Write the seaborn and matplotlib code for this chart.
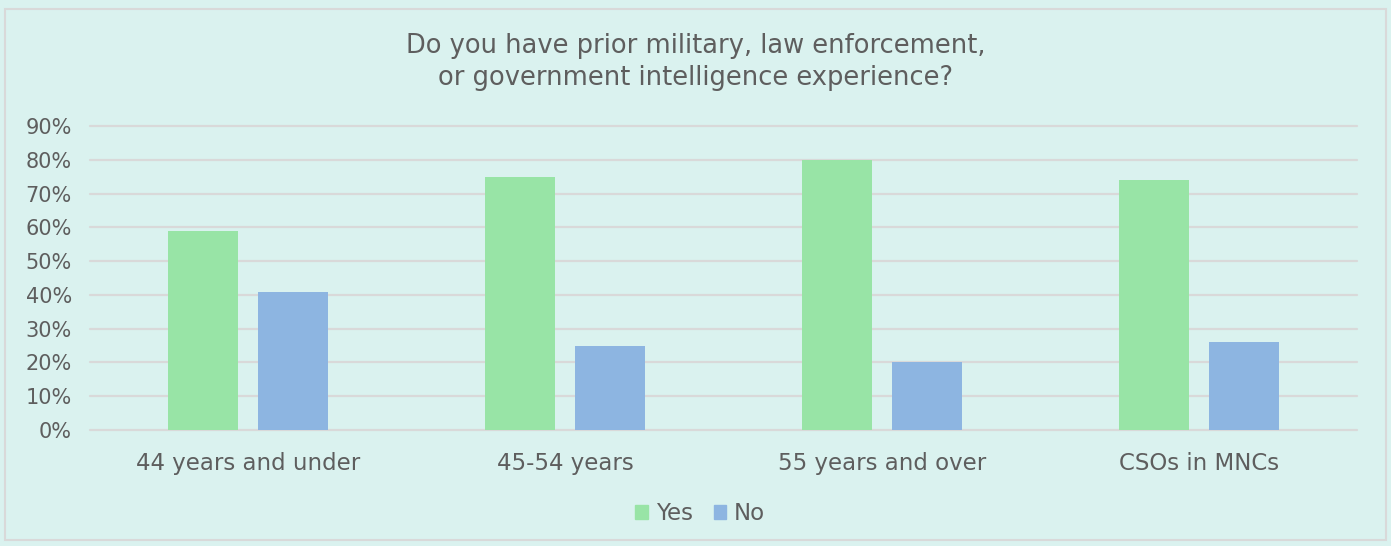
import matplotlib
matplotlib.use("Agg")
import matplotlib.pyplot as plt
import seaborn as sns
import pandas as pd
from matplotlib.patches import Rectangle
from matplotlib.ticker import PercentFormatter

categories = ["44 years and under", "45-54 years", "55 years and over", "CSOs in MNCs"]
yes_values = [59, 75, 80, 74]
no_values = [41, 25, 20, 26]
series_names = ["Yes", "No"]
y_ticks = [0, 10, 20, 30, 40, 50, 60, 70, 80, 90]
title = "Do you have prior military, law enforcement,\nor government intelligence experience?"

bg = "#DAF2EF"
text_color = "#5E5E5E"
grid_color = "#D9D9D9"
palette = {"Yes": "#98E4A6", "No": "#8DB5E1"}

df = pd.DataFrame({
    "category": categories * 2,
    "series": [series_names[0]] * len(categories) + [series_names[1]] * len(categories),
    "value": yes_values + no_values,
})

sns.set_style("white")
plt.rcParams["font.family"] = ["DejaVu Sans"]

fig = plt.figure(figsize=(13.91, 5.46), dpi=100, facecolor=bg)
ax = fig.add_axes([90 / 1391, 1 - 430 / 546, (1357 - 90) / 1391, (430 - 126) / 546])
ax.set_facecolor(bg)

sns.barplot(data=df, x="category", y="value", hue="series", palette=palette,
            width=0.568, gap=0.222, ax=ax, legend=False, saturation=1,
            edgecolor="none", linewidth=0)

ax.set_ylim(0, 90)
ax.set_xlim(-0.5, len(categories) - 0.5)
ax.set_yticks(y_ticks)
ax.yaxis.set_major_formatter(PercentFormatter(decimals=0))
ax.grid(axis="y", color=grid_color, linewidth=1.6)
for gl in ax.get_ygridlines():
    gl.set_clip_on(False)
ax.set_axisbelow(True)
for s in ax.spines.values():
    s.set_visible(False)
ax.tick_params(axis="y", length=0, labelsize=15, colors=text_color, pad=13)
ax.tick_params(axis="x", length=0, labelsize=16.5, colors=text_color, pad=16)
ax.set_xlabel("")
ax.set_ylabel("")

fig.text(0.5, 1 - 62 / 546, title, ha="center", va="center", fontsize=18.5,
         color=text_color, linespacing=1.3)

handles = [Rectangle((0, 0), 1, 1, color=palette[n]) for n in series_names]
leg = fig.legend(handles, series_names, loc="center", bbox_to_anchor=(0.5035, 1 - 514 / 546),
                 ncol=2, frameon=False, fontsize=16.5, handlelength=0.55, handleheight=0.55,
                 handletextpad=0.35, columnspacing=0.9)
for t in leg.get_texts():
    t.set_color(text_color)

fig.patches.append(Rectangle((5 / 1391, 6 / 546), 1381 / 1391, 531 / 546,
                             transform=fig.transFigure, fill=False,
                             edgecolor=grid_color, linewidth=1.5))

fig.savefig("out.png", dpi=100, facecolor=bg)
